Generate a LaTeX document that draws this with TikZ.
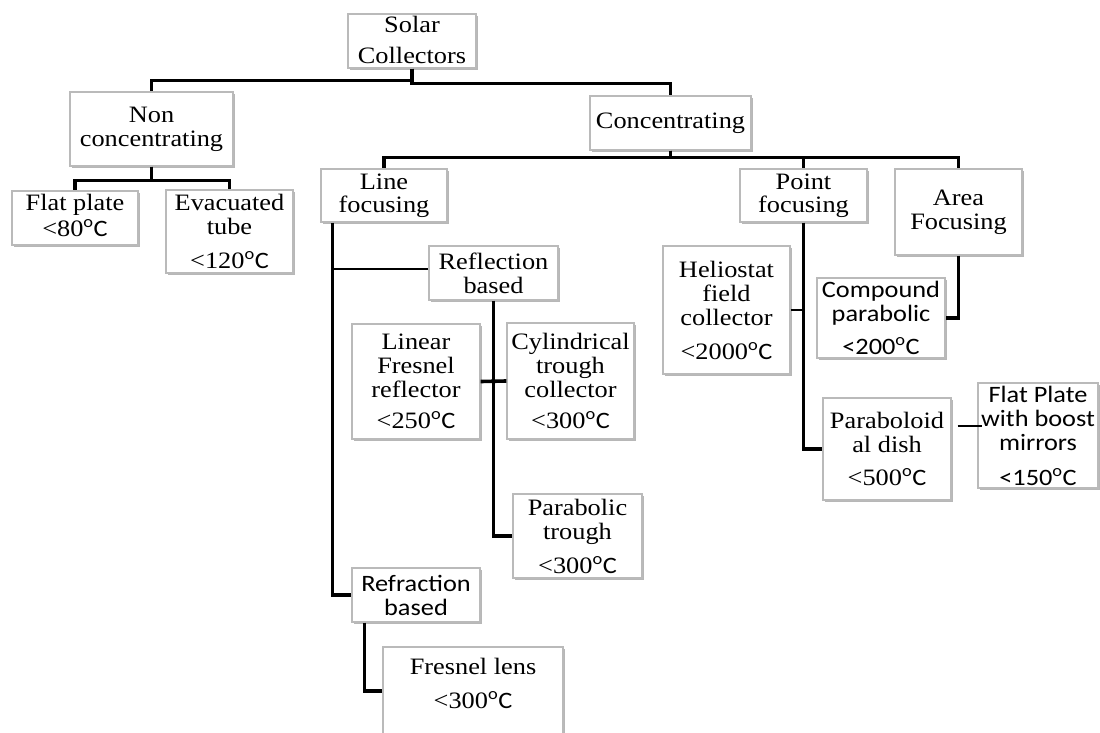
\documentclass[tikz,border=0pt]{standalone}
\usepackage{fontspec}
\setmainfont{Liberation Serif}[FakeStretch=1.12]
\setsansfont{Carlito}[FakeStretch=1.12]
\usetikzlibrary{shadows,calc}
\newcommand{\dgc}{{\sffamily\textsuperscript{o}C}}
\tikzset{
  box/.style={draw=black!27, line width=1.3pt, fill=white, align=center, inner sep=0pt,
    font=\fontsize{23.5}{24}\selectfont,
    drop shadow={shadow xshift=1.6pt, shadow yshift=-1.6pt, opacity=0.4, fill=black!70}},
  sbox/.style={box, font=\fontsize{23.5}{24}\selectfont\sffamily},
  conn/.style={line width=3.6pt, draw=black},
  medconn/.style={line width=2.8pt, draw=black},
  thinconn/.style={line width=2.2pt, draw=black}
}
\begin{document}
\begin{tikzpicture}[x=1pt,y=-1pt]
\useasboundingbox (0,0) rectangle (1100,733);
\clip (0,0) rectangle (1100,733);

% boxes
\node[box, minimum width=128pt, minimum height=54pt] (sc) at (412,41) {Solar\\[7pt]Collectors\rule[-3pt]{0pt}{3pt}};
\node[box, minimum width=163pt, minimum height=74pt] (nc) at (151.5,129) {Non\\concentrating};
\node[box, minimum width=126pt, minimum height=54pt] (fp) at (75,218) {Flat plate\\[2pt]<80\dgc\rule[-6pt]{0pt}{6pt}};
\node[box, minimum width=127pt, minimum height=83pt] (et) at (229.5,231.5) {Evacuated\\tube\\[10pt]<120\dgc};
\node[box, minimum width=161pt, minimum height=54pt] (co) at (670.5,123) {Concentrating};
\node[box, minimum width=126pt, minimum height=53pt] (lf) at (384,195.5) {Line\\[-1pt]focusing};
\node[box, minimum width=127pt, minimum height=53pt] (pf) at (803.5,195.5) {Point\\[-1pt]focusing};
\node[box, minimum width=127pt, minimum height=86pt] (af) at (958.5,212) {Area\\Focusing};
\node[box, minimum width=129pt, minimum height=54pt] (rb) at (493.5,273) {Reflection\\based};
\node[box, minimum width=128pt, minimum height=115pt] (lfr) at (416,381.5) {Linear\\Fresnel\\reflector\\[7pt]<250\dgc};
\node[box, minimum width=127pt, minimum height=116pt] (ct) at (570.5,381) {Cylindrical\\trough\\collector\\[7pt]<300\dgc};
\node[box, minimum width=129pt, minimum height=84pt] (pt) at (577.5,536) {Parabolic\\trough\\[10pt]<300\dgc};
\node[sbox, minimum width=128pt, minimum height=54pt] (rf) at (416,595) {Refraction\\based};
\node[box, minimum width=180pt, minimum height=88pt] (fl) at (473,691) {Fresnel lens\\[10pt]<300\dgc\rule[-16pt]{0pt}{16pt}};
\node[box, minimum width=127pt, minimum height=128pt] (hf) at (726.5,310) {Heliostat\\field\\collector\\[10pt]<2000\dgc};
\node[sbox, minimum width=128pt, minimum height=80pt] (cp) at (881,318) {Compound\\parabolic\\[9pt]<200\dgc};
\node[box, minimum width=128pt, minimum height=102pt] (pd) at (887,449) {Paraboloid\\al dish\\[9pt]<500\dgc};
\node[sbox, minimum width=120pt, minimum height=105pt] (fb) at (1038,435.5) {Flat Plate\\with boost\\mirrors\\[11pt]<150\dgc};

% connectors
\draw[conn] (sc.south) -- ++(0,12) -| (nc.north);
\draw[conn] (sc.south) -- ++(0,15) -| (co.north);
\draw[conn] (nc.south) -- ++(0,14) -| (fp.north);
\draw[conn] (nc.south) -- ++(0,14) -| (et.north);
\draw[conn] (co.south) -- ++(0,7) -| (lf.north);
\draw[conn] (co.south) -- ++(0,7) -| (pf.north);
\draw[conn] (co.south) -- ++(0,7) -| (af.north);

\draw[conn] (lf.south west) ++(12,0) coordinate (lv) |- (rf.west);
\coordinate (rbl) at ($(rb.west)+(0,-4)$);
\draw[thinconn] (rbl -| lv) -- (rbl);
\draw[conn] (rb.south) |- (pt.west);
\draw[conn] (lfr.east) -- (ct.west);
\draw[conn] ($(rf.south west)+(13,0)$) |- (fl.west);

\draw[conn] (pf.south) |- (pd.west);
\draw[medconn] (hf.east) -- (hf.east -| pf.south);
\draw[conn] (af.south) |- (cp.east);
\draw[thinconn] ($(pd.east)+(6,-23)$) -- ($(fb.west)+(5,-9.5)$);
\end{tikzpicture}
\end{document}
